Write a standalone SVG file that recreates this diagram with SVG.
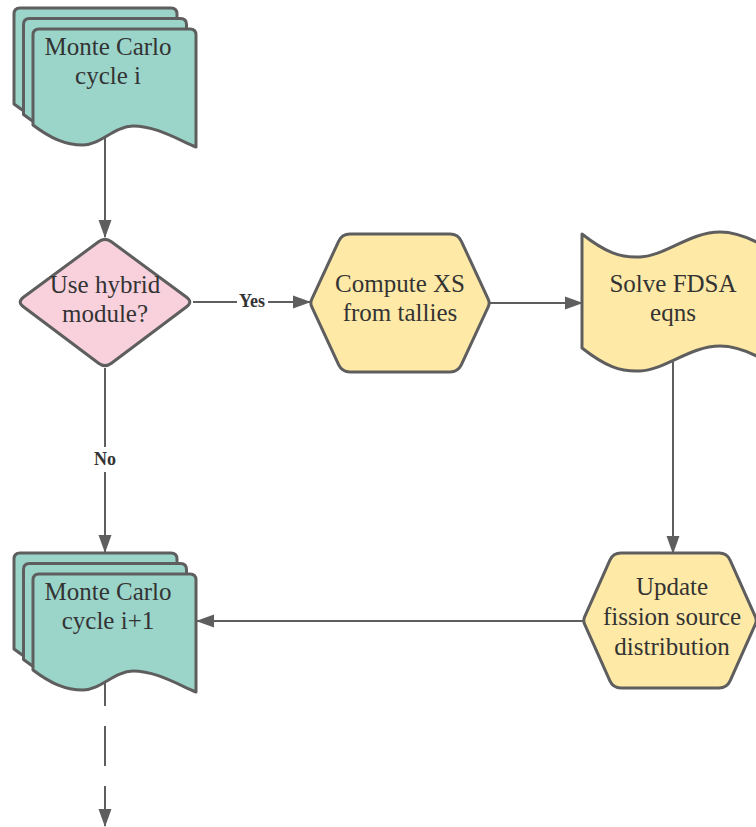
<svg xmlns="http://www.w3.org/2000/svg" xmlns:xlink="http://www.w3.org/1999/xlink" width="756" height="827" viewBox="0 0 756 827">
<style>
.shape{stroke:#5e5e5e;stroke-width:3;stroke-linejoin:round}
.teal{fill:#9bd5ca}
.pink{fill:#f8d1dd}
.yellow{fill:#fee9a6}
.t{font-family:"Liberation Serif","Times New Roman",serif;font-size:25px;fill:#333333;text-anchor:middle}
.lbl{font-family:"Liberation Serif","Times New Roman",serif;font-size:18px;font-weight:bold;fill:#333333;text-anchor:middle}
.conn{stroke:#5e5e5e;stroke-width:2;fill:none}
</style>
<defs>
<marker id="arr" markerUnits="userSpaceOnUse" markerWidth="18" markerHeight="14" refX="17" refY="7" orient="auto">
<path d="M0,0.5 L18,7 L0,13.5 Z" fill="#5e5e5e"/>
</marker>
<path id="sheet" d="M0,6 Q0,0 6,0 L157,0 Q163,0 163,6 L163,118 C142,109 122,97 100,97 C82,97 67,116 50,116 C32,116 17,109 0,96 Z"/>
</defs>
<rect width="756" height="827" fill="#ffffff"/>
<g id="connectors">
<line class="conn" x1="105" y1="130" x2="105" y2="237" marker-end="url(#arr)"/>
<line class="conn" x1="193" y1="302" x2="310" y2="302" marker-end="url(#arr)"/>
<rect x="237" y="290" width="31" height="20" fill="#ffffff"/>
<text class="lbl" x="252" y="307">Yes</text>
<line class="conn" x1="490" y1="303" x2="582" y2="303" marker-end="url(#arr)"/>
<line class="conn" x1="673" y1="362" x2="673" y2="553" marker-end="url(#arr)"/>
<line class="conn" x1="583" y1="621" x2="197" y2="621" marker-end="url(#arr)"/>
<line class="conn" x1="105" y1="368" x2="105" y2="552" marker-end="url(#arr)"/>
<rect x="90" y="447" width="30" height="25" fill="#ffffff"/>
<text class="lbl" x="105" y="465">No</text>
<line class="conn" x1="105" y1="666" x2="105" y2="826" stroke-dasharray="40 20" marker-end="url(#arr)"/>
</g>
<g id="mc-cycle-i">
<use xlink:href="#sheet" href="#sheet" x="14" y="8" class="shape teal"/>
<use xlink:href="#sheet" href="#sheet" x="23.5" y="18.5" class="shape teal"/>
<use xlink:href="#sheet" href="#sheet" x="33" y="29" class="shape teal"/>
<text class="t" x="108" y="55">Monte Carlo</text>
<text class="t" x="108" y="84">cycle i</text>
</g>
<g id="use-hybrid">
<path class="shape pink" d="M23.4,297.2 L98.6,241.8 Q105,237 111.4,241.8 L186.6,297.2 Q193,302 186.6,306.8 L111.4,363.2 Q105,368 98.6,363.2 L23.4,306.8 Q17,302 23.4,297.2 Z"/>
<text class="t" x="105" y="293">Use hybrid</text>
<text class="t" x="105" y="322">module?</text>
</g>
<g id="compute-xs">
<path class="shape yellow" d="M311.7,299.4 L338.6,241.3 Q342,234 350,234 L450,234 Q458,234 461.4,241.3 L488.3,299.4 Q490,303 488.3,306.6 L461.4,364.7 Q458,372 450,372 L350,372 Q342,372 338.6,364.7 L311.7,306.6 Q310,303 311.7,299.4 Z"/>
<text class="t" x="400" y="292">Compute XS</text>
<text class="t" x="400" y="321">from tallies</text>
</g>
<g id="solve-fdsa">
<path class="shape yellow" d="M582,234 C605,252 620,258 640,257 C665,256 690,232 720,232 C735,232 750,238 764,246 L764,360 C750,352 735,346 720,346 C690,346 665,370 640,371 C620,372 605,366 582,348 Z"/>
<text class="t" x="673" y="292">Solve FDSA</text>
<text class="t" x="673" y="321">eqns</text>
</g>
<g id="update-fission">
<path class="shape yellow" d="M584.6,616.8 L609.8,560.3 Q613,553 621,553 L719,553 Q727,553 730.2,560.3 L755.4,616.8 Q757,620.5 755.4,624.2 L730.2,680.7 Q727,688 719,688 L621,688 Q613,688 609.8,680.7 L584.6,624.2 Q583,620.5 584.6,616.8 Z"/>
<text class="t" x="672" y="595">Update</text>
<text class="t" x="672" y="625">fission source</text>
<text class="t" x="672" y="655">distribution</text>
</g>
<g id="mc-cycle-i1">
<use xlink:href="#sheet" href="#sheet" x="14" y="553" class="shape teal"/>
<use xlink:href="#sheet" href="#sheet" x="23.5" y="563.5" class="shape teal"/>
<use xlink:href="#sheet" href="#sheet" x="33" y="574" class="shape teal"/>
<text class="t" x="108" y="600">Monte Carlo</text>
<text class="t" x="108" y="629">cycle i+1</text>
</g>
</svg>
